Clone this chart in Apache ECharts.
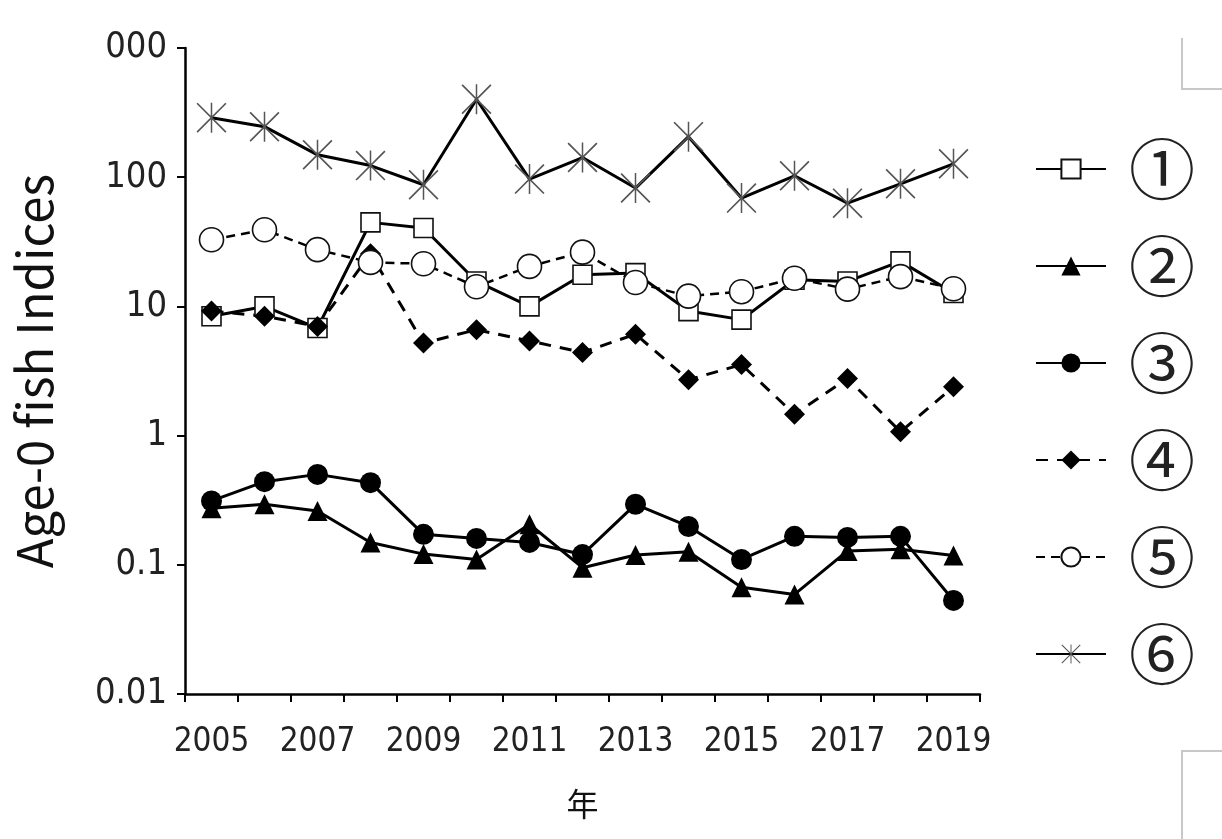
<!DOCTYPE html>
<html>
<head>
<meta charset="utf-8">
<script src="https://cdn.jsdelivr.net/npm/echarts@6/dist/echarts.min.js"></script>
<style>
html,body{margin:0;padding:0;background:#fff;}
#chart{width:1222px;height:839px;}
</style>
</head>
<body>
<div id="chart"></div>
<script>
const years = ['2005','2006','2007','2008','2009','2010','2011','2012','2013','2014','2015','2016','2017','2018','2019'];
const yTickLabels = ['0.01','0.1','1','10','100','000'];
const seriesNames = ['①','②','③','④','⑤','⑥'];
const s1 = [8.4, 10.0, 6.8, 44.7, 40.4, 15.6, 10.0, 17.6, 18.1, 9.2, 7.9, 16.1, 15.6, 22.3, 12.7];
const s2 = [0.274, 0.294, 0.261, 0.149, 0.121, 0.110, 0.206, 0.095, 0.119, 0.126, 0.067, 0.059, 0.128, 0.132, 0.118];
const s3 = [0.312, 0.440, 0.501, 0.432, 0.172, 0.160, 0.149, 0.120, 0.294, 0.198, 0.110, 0.166, 0.163, 0.166, 0.053];
const s4 = [9.2, 8.4, 7.0, 25.6, 5.2, 6.6, 5.4, 4.4, 6.1, 2.7, 3.55, 1.46, 2.77, 1.07, 2.39];
const s5 = [32.8, 39.2, 27.5, 21.9, 21.4, 14.2, 20.4, 26.3, 15.3, 12.0, 13.0, 16.5, 13.6, 17.0, 13.7];
const s6 = [289, 246, 149, 123, 87.4, 401, 96.7, 142, 82.4, 206, 68.9, 102.6, 63, 88.9, 127];

const asterisk = 'path://M47.5,0L52.5,0L52.5,100L47.5,100Z M4,0L100,96L96,100L0,4Z M96,0L100,4L4,100L0,96Z';
const narrow = '"Liberation Sans Narrow","DejaVu Sans Condensed","Roboto Condensed","Liberation Sans",sans-serif';

const chart = echarts.init(document.getElementById('chart'), null, {renderer:'canvas'});

function mk(name, data, symbol, size, fill, dash, lw) {
  return {
    name: name, type: 'line', data: data,
    symbol: symbol, symbolSize: size,
    lineStyle: {color: '#000', width: lw || 3, type: dash || 'solid'},
    itemStyle: {color: fill, borderColor: fill === '#fff' ? '#111' : fill, borderWidth: fill === '#fff' ? 1.6 : 0},
    emphasis: {disabled: true},
    z: 2
  };
}

const option = {
  animation: false,
  backgroundColor: '#fff',
  grid: {left: 185, right: 242, top: 48, bottom: 145},
  xAxis: {
    type: 'category', data: years, boundaryGap: true,
    name: '年', nameLocation: 'middle', nameGap: 94,
    nameTextStyle: {fontFamily: '"Noto Sans CJK JP"', fontSize: 32, color: '#111'},
    axisLine: {lineStyle: {color: '#000', width: 2.5}},
    axisTick: {show: true, interval: 0, length: 8, lineStyle: {color: '#000', width: 2}},
    axisLabel: {interval: 1, margin: 32, fontSize: 33, color: '#222', fontFamily: narrow},
    splitLine: {show: false}
  },
  yAxis: {
    type: 'log', logBase: 10, min: 0.01, max: 1000,
    name: 'Age-0 fish Indices', nameLocation: 'middle', nameGap: 126, nameRotate: 90,
    nameTextStyle: {fontFamily: '"Noto Sans CJK JP","Noto Sans",sans-serif', fontSize: 49, color: '#111'},
    axisLine: {show: true, lineStyle: {color: '#000', width: 2.5}},
    axisTick: {show: true, length: 8, lineStyle: {color: '#000', width: 2}},
    axisLabel: {margin: 18, fontSize: 36, color: '#222', fontFamily: narrow,
      formatter: function (v, i) { return yTickLabels[i]; }},
    splitLine: {show: false}
  },
  legend: {
    orient: 'vertical', left: 1030, top: 131,
    itemWidth: 70, itemHeight: 24, itemGap: 31,
    textStyle: {fontSize: 66, lineHeight: 62, color: '#222', fontFamily: '"Noto Sans CJK JP"', padding: [0,0,0,18]},
    data: seriesNames
  },
  series: [
    mk(seriesNames[0], s1, 'rect', 19, '#fff'),
    mk(seriesNames[1], s2, 'triangle', 20, '#000'),
    mk(seriesNames[2], s3, 'circle', 21, '#000'),
    mk(seriesNames[3], s4, 'diamond', 21, '#000', [12, 9]),
    mk(seriesNames[4], s5, 'circle', 24, '#fff', [9, 6], 2.5),
    Object.assign(mk(seriesNames[5], s6, asterisk, 30, '#555'), {itemStyle: {color: '#555'}})
  ],
  graphic: [
    {type: 'polyline', silent: true, shape: {points: [[1182, 38], [1182, 89], [1222, 89]]}, style: {stroke: '#c8c8c8', lineWidth: 2, fill: null}},
    {type: 'polyline', silent: true, shape: {points: [[1222, 751], [1182, 751], [1182, 839]]}, style: {stroke: '#c8c8c8', lineWidth: 2, fill: null}}
  ]
};
chart.setOption(option);
</script>
</body>
</html>
